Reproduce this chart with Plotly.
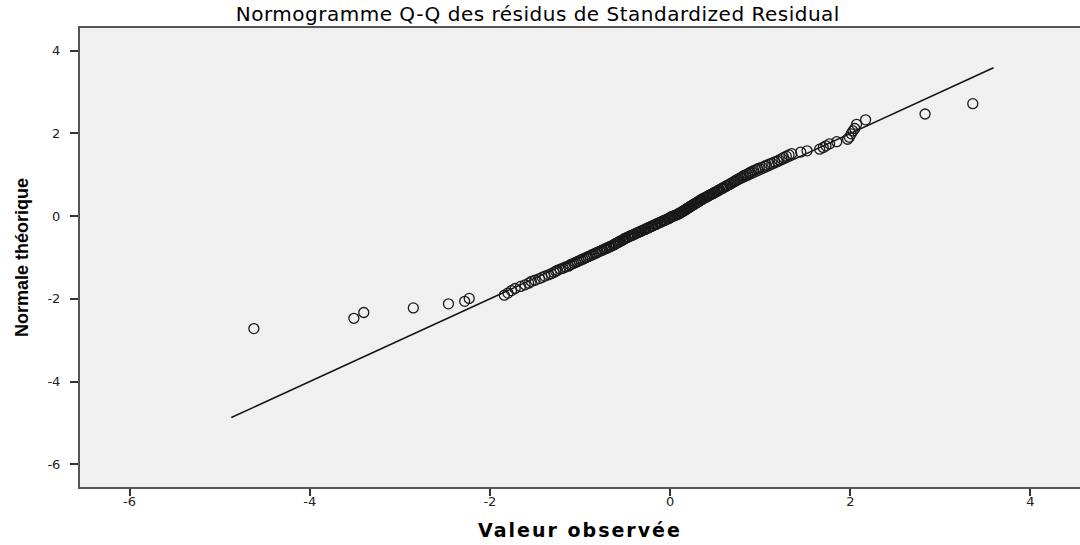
import plotly.graph_objects as go

# ---- data ----
observed = [
    -4.62, -3.51, -3.40, -2.85, -2.46, -2.28, -2.23, -1.84,
    -1.80, -1.76, -1.72, -1.66, -1.61, -1.57, -1.54, -1.50, -1.45, -1.42,
    -1.39, -1.35, -1.32, -1.29, -1.27, -1.25, -1.22, -1.19, -1.16, -1.13,
    -1.11, -1.09, -1.07, -1.05, -1.03, -1.01, -0.99, -0.97, -0.95, -0.93,
    -0.91, -0.89, -0.87, -0.85, -0.83, -0.82, -0.80, -0.78, -0.76, -0.75,
    -0.73, -0.71, -0.70, -0.68, -0.67, -0.65, -0.63, -0.62, -0.61, -0.60,
    -0.58, -0.57, -0.56, -0.55, -0.53, -0.52, -0.51, -0.50, -0.49, -0.47,
    -0.46, -0.44, -0.43, -0.42, -0.40, -0.39, -0.37, -0.36, -0.35, -0.33,
    -0.32, -0.31, -0.29, -0.28, -0.27, -0.25, -0.24, -0.23, -0.21, -0.20,
    -0.19, -0.17, -0.16, -0.15, -0.14, -0.12, -0.11, -0.10, -0.08, -0.07,
    -0.06, -0.05, -0.03, -0.02, -0.01, 0.00, 0.01, 0.02, 0.03,
    0.05, 0.06, 0.08, 0.09, 0.10, 0.10, 0.12, 0.13, 0.14, 0.14, 0.16, 0.17,
    0.17, 0.19, 0.19, 0.20, 0.21, 0.22, 0.23, 0.24, 0.25, 0.26, 0.27, 0.28,
    0.29, 0.30, 0.31, 0.32, 0.33, 0.34, 0.35, 0.36, 0.37, 0.38, 0.40, 0.41,
    0.42, 0.43, 0.44, 0.46, 0.47, 0.48, 0.49, 0.50, 0.52, 0.53, 0.54, 0.55,
    0.57, 0.58, 0.59, 0.60, 0.62, 0.63, 0.64, 0.66, 0.67, 0.68, 0.70, 0.71,
    0.72, 0.74, 0.75, 0.76, 0.78, 0.79, 0.81, 0.82, 0.84, 0.86, 0.88, 0.89,
    0.91, 0.93, 0.95, 0.97, 0.99, 1.02, 1.05, 1.07, 1.10, 1.13, 1.16, 1.19,
    1.21, 1.24, 1.26, 1.29, 1.32, 1.35, 1.45, 1.52, 1.66, 1.70, 1.73, 1.77,
    1.85, 1.97, 1.99, 2.01, 2.03, 2.05, 2.07, 2.17, 2.83, 3.36,
]
theoretical = [
    -2.72, -2.47, -2.33, -2.22, -2.12, -2.06, -1.99, -1.91,
    -1.86, -1.80, -1.75, -1.70, -1.66, -1.62, -1.58, -1.55, -1.51, -1.48,
    -1.45, -1.42, -1.39, -1.36, -1.33, -1.31, -1.28, -1.26, -1.23, -1.21,
    -1.18, -1.16, -1.14, -1.12, -1.10, -1.08, -1.06, -1.04, -1.02, -1.00,
    -0.98, -0.96, -0.94, -0.92, -0.90, -0.89, -0.87, -0.85, -0.83, -0.82,
    -0.80, -0.78, -0.77, -0.75, -0.74, -0.72, -0.70, -0.69, -0.67, -0.66,
    -0.64, -0.63, -0.61, -0.60, -0.58, -0.57, -0.55, -0.54, -0.53, -0.51,
    -0.50, -0.48, -0.47, -0.46, -0.44, -0.43, -0.41, -0.40, -0.39, -0.37,
    -0.36, -0.35, -0.33, -0.32, -0.31, -0.29, -0.28, -0.27, -0.25, -0.24,
    -0.23, -0.21, -0.20, -0.19, -0.18, -0.16, -0.15, -0.14, -0.12, -0.11,
    -0.10, -0.09, -0.07, -0.06, -0.05, -0.04, -0.02, -0.01, 0.00,
    0.01, 0.02, 0.04, 0.05, 0.06, 0.07, 0.09, 0.10, 0.11, 0.12, 0.14, 0.15,
    0.16, 0.18, 0.19, 0.20, 0.21, 0.23, 0.24, 0.25, 0.27, 0.28, 0.29, 0.31,
    0.32, 0.33, 0.35, 0.36, 0.37, 0.39, 0.40, 0.41, 0.43, 0.44, 0.46, 0.47,
    0.48, 0.50, 0.51, 0.53, 0.54, 0.55, 0.57, 0.58, 0.60, 0.61, 0.63, 0.64,
    0.66, 0.67, 0.69, 0.70, 0.72, 0.74, 0.75, 0.77, 0.78, 0.80, 0.82, 0.83,
    0.85, 0.87, 0.89, 0.90, 0.92, 0.94, 0.96, 0.98, 1.00, 1.02, 1.04, 1.06,
    1.08, 1.10, 1.12, 1.14, 1.16, 1.18, 1.21, 1.23, 1.26, 1.28, 1.31, 1.33,
    1.36, 1.39, 1.42, 1.45, 1.48, 1.51, 1.55, 1.58, 1.62, 1.66, 1.70, 1.75,
    1.80, 1.86, 1.91, 1.99, 2.06, 2.12, 2.22, 2.33, 2.47, 2.72,
]
ref_line = [-4.87, 3.59]          # y = x reference line ends
tick_vals = [-6, -4, -2, 0, 2, 4]
tick_text = ["-6", "-4", "-2", "0", "2", "4"]

title_text = "Normogramme Q-Q des résidus de Standardized Residual"
x_title = "Valeur observée"
y_title = "Normale théorique"

fig = go.Figure()
fig.add_trace(go.Scatter(
    x=ref_line, y=ref_line, mode="lines",
    line=dict(color="#111111", width=1.5), hoverinfo="skip", showlegend=False,
))
fig.add_trace(go.Scatter(
    x=observed, y=theoretical, mode="markers",
    marker=dict(symbol="circle-open", size=10, color="#1a1a1a",
                line=dict(width=1.3, color="#1a1a1a")),
    showlegend=False,
))

axis_font = dict(family="DejaVu Sans, Liberation Sans, Arial", size=13, color="#222222")

fig.update_layout(
    width=1080, height=545,
    margin=dict(l=80, r=0, t=28, b=58, autoexpand=False),
    paper_bgcolor="white",
    plot_bgcolor="#f0f0f0",
    hovermode=False,
    title=dict(text='<span style="letter-spacing:0.5px">' + title_text + "</span>",
               x=0.498, xanchor="center", y=0.974, yanchor="middle",
               font=dict(family="DejaVu Sans, Liberation Sans, Arial", size=20, color="#000000")),
    xaxis=dict(
        range=[-6.55, 4.55], tickvals=tick_vals, ticktext=tick_text,
        showgrid=False, zeroline=False,
        showline=True, linecolor="#555555", linewidth=2, mirror=True,
        ticks="outside", ticklen=7, tickwidth=1.5, tickcolor="#333333",
        tickfont=axis_font, automargin=False, ticklabelstandoff=-6,
        title=dict(text='<span style="letter-spacing:2px"><b>' + x_title + "</b></span>", standoff=16,
                   font=dict(family="DejaVu Sans, Liberation Sans, Arial", size=19, color="#000000")),
    ),
    yaxis=dict(
        range=[-6.55, 4.55], tickvals=tick_vals, ticktext=tick_text,
        showgrid=False, zeroline=False,
        showline=True, linecolor="#555555", linewidth=2,
        ticks="outside", ticklen=8, tickwidth=1.5, tickcolor="#333333",
        tickfont=axis_font, automargin=False, ticklabelstandoff=7,
        title=dict(text="<b>" + y_title + "</b>", standoff=14,
                   font=dict(family="Liberation Sans, Arial", size=18, color="#000000")),
    ),
)

fig.write_html(
    "out.html",
    config={"displayModeBar": False},
    post_script="document.body.style.margin='0px';document.body.style.overflow='hidden';",
)
